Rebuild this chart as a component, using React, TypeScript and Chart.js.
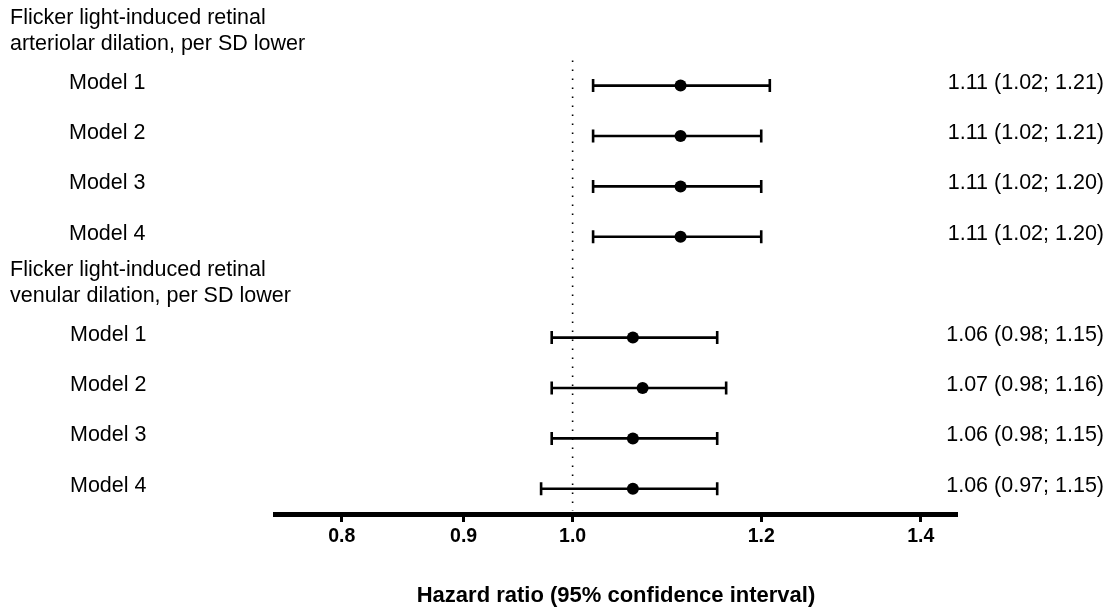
import React, { useEffect, useRef } from "react";
import { Chart, registerables } from "chart.js";

Chart.register(...registerables);

const groupHeaders = [
  ["Flicker light-induced retinal", "arteriolar dilation, per SD lower"],
  ["Flicker light-induced retinal", "venular dilation, per SD lower"],
];
const headerRows = [0, 5];
const rowLabels = ["Model 1", "Model 2", "Model 3", "Model 4", "Model 1", "Model 2", "Model 3", "Model 4"];
const rowPositions = [1, 2, 3, 4, 6, 7, 8, 9];
const hrValues = [1.11, 1.11, 1.11, 1.11, 1.06, 1.07, 1.06, 1.06];
const lowerCI = [1.02, 1.02, 1.02, 1.02, 0.98, 0.98, 0.98, 0.97];
const upperCI = [1.21, 1.2, 1.2, 1.2, 1.15, 1.16, 1.15, 1.15];
const estimateTexts = [
  "1.11 (1.02; 1.21)",
  "1.11 (1.02; 1.21)",
  "1.11 (1.02; 1.20)",
  "1.11 (1.02; 1.20)",
  "1.06 (0.98; 1.15)",
  "1.07 (0.98; 1.16)",
  "1.06 (0.98; 1.15)",
  "1.06 (0.97; 1.15)",
];
const xTickValues = [0.8, 0.9, 1.0, 1.2, 1.4];
const axisTitle = "Hazard ratio (95% confidence interval)";

const FONT = "'Liberation Sans', Arial, sans-serif";

const forestPlugin = {
  id: "forest",
  beforeDatasetsDraw(chart: any) {
    const { ctx, scales, chartArea } = chart;
    const xs = scales.x;
    const ys = scales.y;
    ctx.save();
    // reference line at 1.0
    const x1 = xs.getPixelForValue(1.0);
    ctx.strokeStyle = "#000";
    ctx.lineWidth = 1.6;
    ctx.setLineDash([1.6, 7.4]);
    ctx.beginPath();
    ctx.moveTo(x1, ys.getPixelForValue(0.5));
    ctx.lineTo(x1, chartArea.bottom - 3);
    ctx.stroke();
    ctx.setLineDash([]);
    // error bars
    ctx.lineWidth = 2.6;
    for (let i = 0; i < hrValues.length; i++) {
      const y = ys.getPixelForValue(rowPositions[i]);
      const xl = xs.getPixelForValue(lowerCI[i]);
      const xu = xs.getPixelForValue(upperCI[i]);
      ctx.beginPath();
      ctx.moveTo(xl, y);
      ctx.lineTo(xu, y);
      ctx.moveTo(xl, y - 6.5);
      ctx.lineTo(xl, y + 6.5);
      ctx.moveTo(xu, y - 6.5);
      ctx.lineTo(xu, y + 6.5);
      ctx.stroke();
    }
    ctx.restore();
  },
  afterDraw(chart: any) {
    const { ctx, scales } = chart;
    const ys = scales.y;
    ctx.save();
    ctx.fillStyle = "#000";
    ctx.font = `21.5px ${FONT}`;
    ctx.textBaseline = "middle";
    ctx.textAlign = "left";
    headerRows.forEach((r, gi) => {
      const yc = ys.getPixelForValue(r) - 4.5;
      ctx.fillText(groupHeaders[gi][0], 10, yc - 13);
      ctx.fillText(groupHeaders[gi][1], 10, yc + 13);
    });
    for (let i = 0; i < rowLabels.length; i++) {
      const y = ys.getPixelForValue(rowPositions[i]) - 3;
      ctx.textAlign = "left";
      ctx.fillText(rowLabels[i], i < 4 ? 69 : 70, y);
      ctx.textAlign = "right";
      ctx.fillText(estimateTexts[i], 1104, y);
    }
    ctx.restore();
  },
};

export default function App() {
  const canvasRef = useRef<HTMLCanvasElement | null>(null);

  useEffect(() => {
    document.body.style.margin = "0";
    const canvas = canvasRef.current;
    if (!canvas) return;
    const chart = new Chart(canvas, {
      type: "scatter",
      data: {
        datasets: [
          {
            data: hrValues.map((v, i) => ({ x: v, y: rowPositions[i] })),
            pointRadius: 6,
            pointHoverRadius: 6,
            pointBackgroundColor: "#000",
            pointBorderColor: "#000",
            pointBorderWidth: 0,
          },
        ],
      },
      options: {
        responsive: false,
        animation: false,
        events: [],
        layout: { padding: { left: 275, right: 154, top: 10, bottom: 0 } },
        plugins: {
          legend: { display: false },
          tooltip: { enabled: false },
          title: { display: false },
        },
        scales: {
          x: {
            type: "logarithmic",
            position: "bottom",
            min: 0.75,
            max: 1.45,
            afterBuildTicks: (s: any) => {
              s.ticks = xTickValues.map((v) => ({ value: v }));
            },
            afterFit: (s: any) => {
              s.height = 96;
            },
            ticks: {
              callback: (v: any) => Number(v).toFixed(1),
              font: { family: FONT, weight: "bold", size: 19.5 },
              color: "#000",
              padding: 3,
              autoSkip: false,
              maxRotation: 0,
            },
            grid: {
              display: true,
              drawOnChartArea: false,
              drawTicks: true,
              tickLength: 8,
              tickWidth: 3,
              tickColor: "#000",
            },
            border: { display: true, width: 5, color: "#000" },
            title: {
              display: true,
              text: axisTitle,
              font: { family: FONT, weight: "bold", size: 22 },
              color: "#000",
              padding: { top: 0, bottom: 1 },
            },
          },
          y: {
            type: "linear",
            min: -0.5,
            max: 9.5,
            reverse: true,
            display: false,
          },
        },
      },
      plugins: [forestPlugin],
    } as any);
    return () => chart.destroy();
  }, []);

  return (
    <div style={{ width: 1111, height: 610, background: "#fff" }}>
      <canvas ref={canvasRef} width={1111} height={610} />
    </div>
  );
}
